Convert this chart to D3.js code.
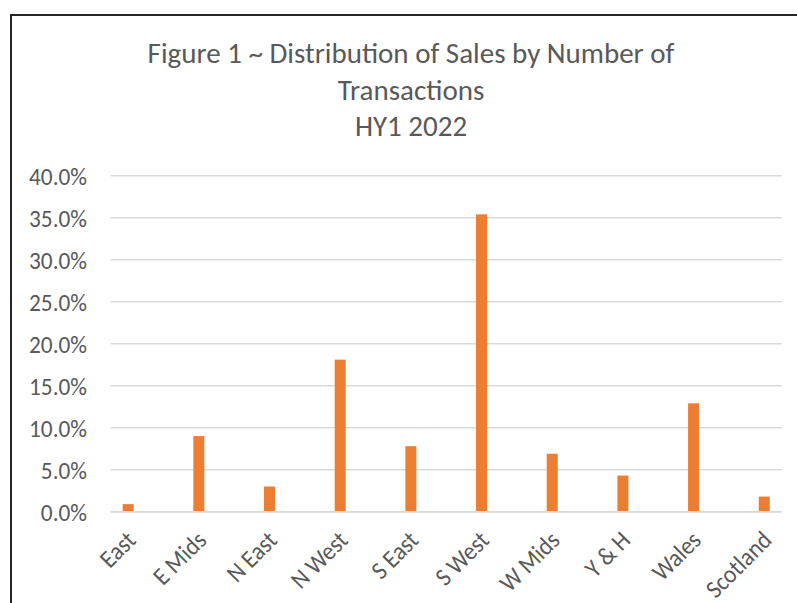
<!DOCTYPE html>
<html>
<head>
<meta charset="utf-8">
<script src="https://cdn.jsdelivr.net/npm/d3@7"></script>
<style>
  body { margin: 0; background: #fff; }
  svg { display: block; }
</style>
</head>
<body>
<div id="chart"></div>
<script>
'use strict';

// data
const regions = ['East', 'E Mids', 'N East', 'N West', 'S East', 'S West', 'W Mids', 'Y & H', 'Wales', 'Scotland']
const share = [0.009, 0.090, 0.030, 0.181, 0.078, 0.354, 0.069, 0.043, 0.129, 0.018]
const yTicks = [0, 0.05, 0.10, 0.15, 0.20, 0.25, 0.30, 0.35, 0.40]
const titleLines = ['Figure 1 ~ Distribution of Sales by Number of', 'Transactions', 'HY1 2022']

const dims = {
  width: 797,
  height: 603,
  left: 110.7,
  right: 781.7,
  top: 175.7,
  bottom: 511.7
}
const fontFamily = "Carlito, Calibri, Lato, 'Open Sans', sans-serif"
const textColor = '#595959'

const svg = d3.select('#chart')
  .append('svg')
  .attr('width', dims.width)
  .attr('height', dims.height)

// outer frame, runs off the right and bottom edges
svg.append('rect')
  .attr('x', 11)
  .attr('y', 15)
  .attr('width', 820)
  .attr('height', 640)
  .attr('fill', 'none')
  .attr('stroke', '#262626')
  .attr('stroke-width', 2)

// width of a sample string at 100px
const measure = function(sample){
  const probe = svg.append('text')
    .style('font-family', fontFamily)
    .style('font-size', '100px')
    .text(sample)
  const w = probe.node().getComputedTextLength()
  probe.remove()
  return w
}

// ticks: a bit taller than the fitted size, squeezed back to width
const tickBoost = 1.08
const tickSize = 100 * 58 / measure('40.0%') * tickBoost
const tickSx = 1 / tickBoost
// title: cap height of the original, squeezed to its width
const titleSize = 29
const titleSx = Math.min(1, 532 / (measure(titleLines[0]) * titleSize / 100))

// scales
const xScale = d3.scalePoint()
  .domain(regions)
  .range([dims.left, dims.right])
  .padding(0.247)

const yScale = d3.scaleLinear()
  .domain([0, 0.40])
  .range([dims.bottom, dims.top])

// gridlines
svg.append('g')
  .selectAll('line')
  .data(yTicks)
  .join('line')
  .attr('x1', dims.left)
  .attr('x2', dims.right)
  .attr('y1', d => yScale(d))
  .attr('y2', d => yScale(d))
  .attr('stroke', '#d9d9d9')
  .attr('stroke-width', 1.5)

// y labels
const pct = d3.format('.1%')
svg.append('g')
  .selectAll('text')
  .data(yTicks)
  .join('text')
  .attr('transform', d => `translate(87, ${yScale(d)}) scale(${tickSx}, 1)`)
  .attr('dy', '0.36em')
  .attr('text-anchor', 'end')
  .style('font-family', fontFamily)
  .style('font-size', tickSize + 'px')
  .attr('fill', textColor)
  .text(d => pct(d))

// bars
const barWidth = 11
svg.append('g')
  .selectAll('rect')
  .data(regions)
  .join('rect')
  .attr('x', d => xScale(d) - barWidth / 2)
  .attr('y', (d, i) => yScale(share[i]))
  .attr('width', barWidth)
  .attr('height', (d, i) => yScale(0) - yScale(share[i]))
  .attr('fill', '#ed7d31')

// baseline drawn over the bars
svg.append('line')
  .attr('x1', dims.left)
  .attr('x2', dims.right)
  .attr('y1', yScale(0))
  .attr('y2', yScale(0))
  .attr('stroke', '#d9d9d9')
  .attr('stroke-width', 1.5)

// x labels, rotated
svg.append('g')
  .selectAll('text')
  .data(regions)
  .join('text')
  .attr('transform', d => `translate(${xScale(d) + 9}, ${yScale(0) + 30}) rotate(-45) scale(${tickSx}, 1)`)
  .attr('text-anchor', 'end')
  .style('font-family', fontFamily)
  .style('font-size', tickSize + 'px')
  .attr('fill', textColor)
  .text(d => d)

// title
svg.append('g')
  .selectAll('text')
  .data(titleLines)
  .join('text')
  .attr('transform', (d, i) => `translate(411, ${63 + i * 36.5}) scale(${titleSx}, 1)`)
  .attr('text-anchor', 'middle')
  .style('font-family', fontFamily)
  .style('font-size', titleSize + 'px')
  .attr('fill', textColor)
  .text(d => d)
</script>
</body>
</html>
